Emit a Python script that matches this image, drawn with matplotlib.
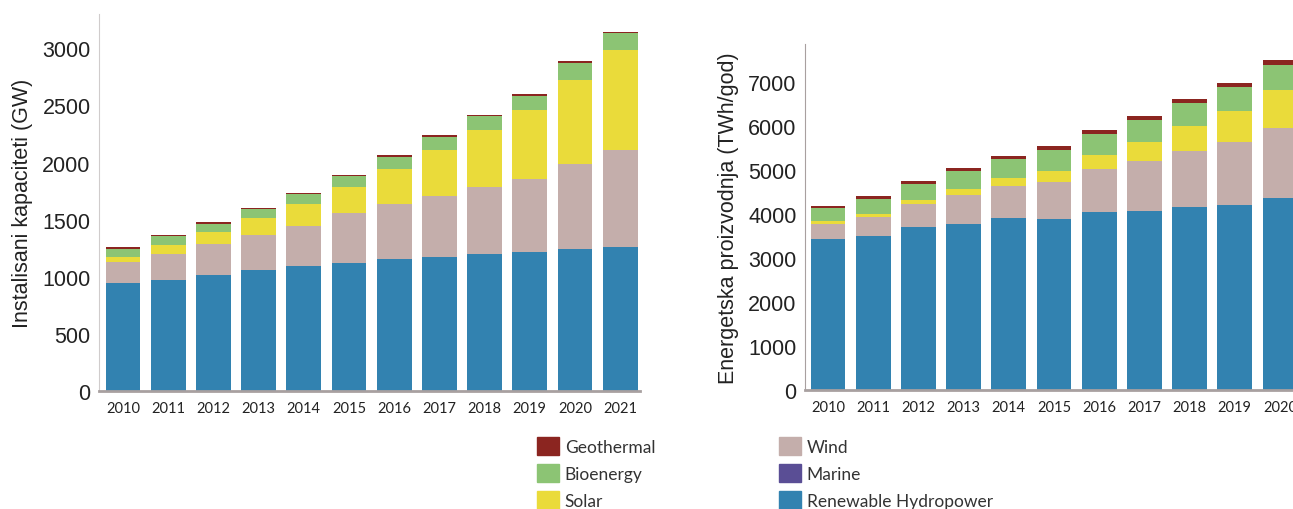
import numpy as np
import matplotlib
matplotlib.use('Agg')
import matplotlib.pyplot as plt
from matplotlib.patches import Patch

# installed capacity (GW), 2010-2021
years_cap = ['2010', '2011', '2012', '2013', '2014', '2015', '2016', '2017', '2018', '2019', '2020', '2021']
hydro_cap = [948, 972, 1013, 1056, 1094, 1120, 1156, 1176, 1202, 1220, 1240, 1258]
marine_cap = [0.5, 0.5, 0.5, 0.5, 0.5, 0.5, 0.5, 0.5, 0.5, 0.5, 0.5, 0.5]
wind_cap = [181, 230, 271, 313, 353, 438, 481, 531, 581, 633, 750, 849]
solar_cap = [47, 73, 111, 142, 190, 225, 309, 400, 499, 607, 735, 878]
bio_cap = [70, 79, 70, 79, 85, 96, 105, 119, 122, 122, 146, 146]
geo_cap = [10, 10, 13, 11, 11, 13, 11, 12, 13, 14, 13, 15]

# generation (TWh/god), 2010-2020
years_gen = ['2010', '2011', '2012', '2013', '2014', '2015', '2016', '2017', '2018', '2019', '2020']
hydro_gen = [3435, 3504, 3701, 3784, 3913, 3890, 4042, 4065, 4171, 4217, 4361]
marine_gen = [1, 1, 1, 1, 1, 1, 1, 1, 1, 1, 1]
wind_gen = [349, 440, 523, 660, 721, 850, 978, 1153, 1267, 1425, 1607]
solar_gen = [53, 60, 106, 129, 197, 243, 327, 432, 561, 698, 857]
bio_gen = [296, 342, 364, 410, 432, 470, 470, 493, 531, 561, 577]
geo_gen = [61, 60, 61, 60, 61, 91, 91, 83, 91, 91, 106]

c_hydro = '#3282b0'
c_marine = '#5a4e95'
c_wind = '#c4aeab'
c_solar = '#eadb3a'
c_bio = '#8cc474'
c_geo = '#8b2520'

plt.rcParams['font.family'] = ['Liberation Sans', 'DejaVu Sans']

fig = plt.figure(figsize=(12.93, 5.10), dpi=100)
ax1 = fig.add_axes([0.0766, 0.2314, 0.4184, 0.7392])
ax2 = fig.add_axes([0.6226, 0.2333, 0.3774, 0.6785])


def stacked(ax, years, series, ymax, xlim):
    x = np.arange(len(years))
    bottom = np.zeros(len(years))
    for vals, col in series:
        vals = np.array(vals, dtype=float)
        ax.bar(x, vals, 0.77, bottom=bottom, color=col, edgecolor='none')
        bottom += vals
    ax.set_xlim(*xlim)
    ax.set_ylim(0, ymax)
    ax.set_xticks(x)
    ax.set_xticklabels(years, fontname='Lato', fontsize=10.5, color='#222222')
    ax.tick_params(axis='both', length=0)
    ax.tick_params(axis='y', labelsize=15.5, labelcolor='#222222', pad=6)
    ax.tick_params(axis='x', pad=7)
    for s in ['top', 'right']:
        ax.spines[s].set_visible(False)
    ax.spines['left'].set_color('#d0cccc')
    ax.spines['bottom'].set_color('#a8a0a0')
    ax.spines['bottom'].set_linewidth(2)


stacked(ax1, years_cap,
        [(hydro_cap, c_hydro), (marine_cap, c_marine), (wind_cap, c_wind),
         (solar_cap, c_solar), (bio_cap, c_bio), (geo_cap, c_geo)],
        3300, (-0.53, 11.44))
ax1.set_yticks([0, 500, 1000, 1500, 2000, 2500, 3000])
ax1.set_ylabel('Instalisani kapaciteti (GW)', fontsize=15.5, color='#222222', labelpad=7)

stacked(ax2, years_gen,
        [(hydro_gen, c_hydro), (marine_gen, c_marine), (wind_gen, c_wind),
         (solar_gen, c_solar), (bio_gen, c_bio), (geo_gen, c_geo)],
        7870, (-0.51, 10.29))
ax2.set_yticks([0, 1000, 2000, 3000, 4000, 5000, 6000, 7000])
ax2.spines['left'].set_color('#a8a0a0')
ax2.set_ylabel('Energetska proizvodnja (TWh/god)', fontsize=15.5, color='#222222', labelpad=7)

leg_kw = dict(frameon=False, handlelength=1.25, handleheight=1.25, handletextpad=0.35,
              labelspacing=0.5, borderaxespad=0, borderpad=0,
              prop={'family': 'Lato', 'size': 12.5}, labelcolor='#333333', loc='upper left')
left_items = [('Geothermal', c_geo), ('Bioenergy', c_bio), ('Solar', c_solar)]
right_items = [('Wind', c_wind), ('Marine', c_marine), ('Renewable Hydropower', c_hydro)]
fig.legend([Patch(color=c) for _, c in left_items], [n for n, _ in left_items],
           bbox_to_anchor=(537 / 1293, 1 - 438 / 510), **leg_kw)
fig.legend([Patch(color=c) for _, c in right_items], [n for n, _ in right_items],
           bbox_to_anchor=(779 / 1293, 1 - 438 / 510), **leg_kw)

fig.savefig('out.png', dpi=100)
